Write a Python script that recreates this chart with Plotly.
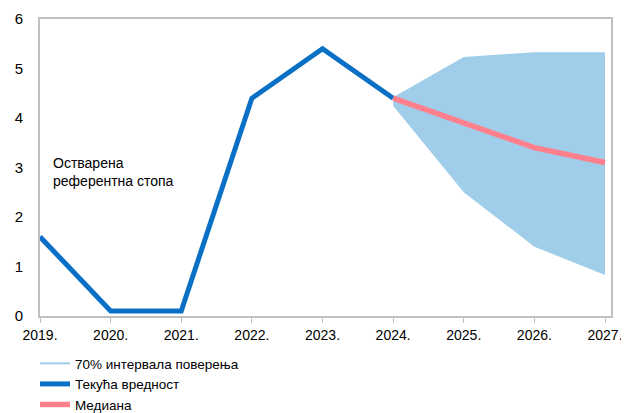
import plotly.graph_objects as go

years = [2019, 2020, 2021, 2022, 2023, 2024, 2025, 2026, 2027]
tick_labels = ["2019.", "2020.", "2021.", "2022.", "2023.", "2024.", "2025.", "2026.", "2027."]

actual_years = [2019, 2020, 2021, 2022, 2023, 2024]
actual_rate = [1.6, 0.1, 0.1, 4.4, 5.4, 4.4]

fc_years = [2024, 2025, 2026, 2027]
median = [4.4, 3.9, 3.4, 3.1]
band_upper = [4.42, 5.23, 5.33, 5.33]
band_lower = [4.25, 2.5, 1.4, 0.83]

BLUE = "#0A70C6"
PINK = "#FF808D"
BAND = "#A0CEEA"
FONT = "Liberation Sans, Arial, sans-serif"

fig = go.Figure()
fig.add_trace(go.Scatter(x=fc_years, y=band_lower, mode="lines", line=dict(width=0, color=BAND),
                         showlegend=False, hoverinfo="skip"))
fig.add_trace(go.Scatter(x=fc_years, y=band_upper, mode="lines", line=dict(width=0, color=BAND),
                         fill="tonexty", fillcolor=BAND, showlegend=False, hoverinfo="skip"))
fig.add_trace(go.Scatter(x=[None], y=[None], mode="lines", line=dict(width=2, color=BAND),
                         name="70% интервала поверења"))
fig.add_trace(go.Scatter(x=actual_years, y=actual_rate, mode="lines",
                         line=dict(width=5, color=BLUE), name="Текућа вредност"))
fig.add_trace(go.Scatter(x=fc_years, y=median, mode="lines",
                         line=dict(width=5.5, color=PINK), name="Медиана"))

fig.add_annotation(text="Остварена<br>референтна стопа", x=2019.16, y=2.9, xref="x", yref="y",
                   xanchor="left", yanchor="middle", showarrow=False, align="left",
                   font=dict(size=14, color="#000000", family=FONT))

fig.update_layout(
    width=621, height=405,
    margin=dict(l=32, r=18, t=11, b=97, autoexpand=False),
    paper_bgcolor="white", plot_bgcolor="white",
    font=dict(family=FONT, size=14, color="#000000"),
    showlegend=True,
    legend=dict(x=-0.0088, y=-0.108, xanchor="left", yanchor="top", orientation="v",
                traceorder="normal", maxheight=200,
                font=dict(size=13.5, family=FONT), tracegroupgap=0, bgcolor="rgba(0,0,0,0)"),
    xaxis=dict(range=[2019, 2027.085], tickmode="array", tickvals=years, ticktext=tick_labels,
               showgrid=False, zeroline=False, showline=True, linecolor="#BFBFBF", linewidth=2,
               mirror=True, ticks="outside", ticklen=5, tickcolor="#BFBFBF", tickwidth=1,
               tickfont=dict(size=14), automargin=False),
    yaxis=dict(range=[0, 6], tickvals=[0, 1, 2, 3, 4, 5, 6], showgrid=False, zeroline=False,
               showline=True, linecolor="#BFBFBF", linewidth=2, mirror=True, ticks="",
               ticklabelstandoff=12, tickfont=dict(size=15), automargin=False),
)

fig.write_html("out.html")
